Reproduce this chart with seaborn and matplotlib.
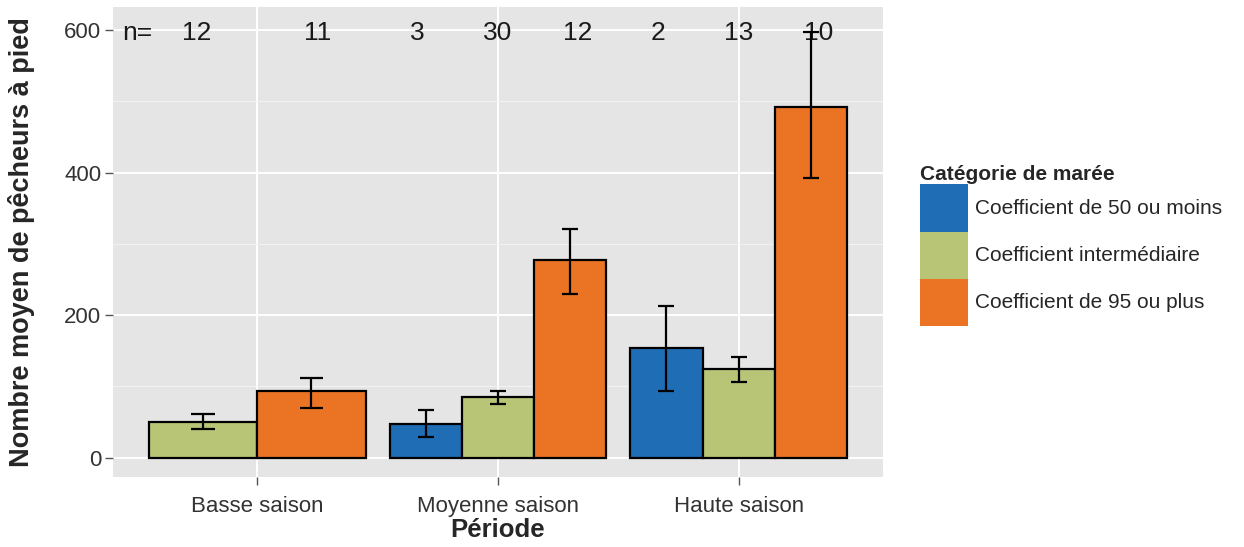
import matplotlib
matplotlib.use("Agg")
import matplotlib.pyplot as plt
from matplotlib.patches import Patch
from matplotlib.ticker import MultipleLocator
import pandas as pd
import seaborn as sns

# data
seasons = ["Basse saison", "Moyenne saison", "Haute saison"]
tides = ["Coefficient de 50 ou moins", "Coefficient intermédiaire", "Coefficient de 95 ou plus"]
tide_colors = ["#1f6db5", "#b8c476", "#eb7424"]

bar_season = [0, 0, 1, 1, 1, 2, 2, 2]
bar_tide = [1, 2, 0, 1, 2, 0, 1, 2]
mean_count = [49.5, 94, 47.5, 85.5, 277.5, 154, 124.5, 492.5]
ci_low = [40.5, 70, 29.5, 75.5, 230, 94, 106.5, 392.5]
ci_high = [61.5, 112.5, 67.5, 94, 321, 213.5, 141.5, 597]
n_obs = [12, 11, 3, 30, 12, 2, 13, 10]

sns.set_theme(style="darkgrid", rc={"axes.facecolor": "#E5E5E5", "grid.color": "white"})
plt.rcParams["font.family"] = ["Liberation Sans", "DejaVu Sans"]

df = pd.DataFrame({
    "season": bar_season,
    "tide": [tides[t] for t in bar_tide],
    "mean": mean_count,
    "low": ci_low,
    "high": ci_high,
    "n": n_obs,
})

# dodge positions like ggplot: groups with fewer bars get wider bars
df["k"] = df.groupby("season").cumcount()
df["m"] = df.groupby("season")["k"].transform("size")
df["width"] = 0.9 / df["m"]
df["pos"] = df["season"] + (df["k"] - (df["m"] - 1) / 2) * df["width"]
df["label_pos"] = df["season"] + (df["k"] - (df["m"] - 1) / 2) / df["m"]

fig, ax = plt.subplots(figsize=(12.44, 5.47), dpi=100)
fig.subplots_adjust(left=0.0908, right=0.7098, bottom=0.128, top=0.987)

palette = dict(zip(tides, tide_colors))
for s in range(len(seasons)):
    sub = df[df["season"] == s]
    sns.barplot(data=sub, x="pos", y="mean", hue="tide", hue_order=tides,
                palette=palette, native_scale=True, dodge=False, width=1,
                errorbar=None, legend=False, edgecolor="black", linewidth=1.6,
                saturation=1, orient="x", ax=ax)

# error bars
cap = df["width"] * 0.22
ax.vlines(df["pos"], df["low"], df["high"], color="black", lw=1.6, zorder=5)
ax.hlines(df["low"], df["pos"] - cap / 2, df["pos"] + cap / 2, color="black", lw=1.6, zorder=5)
ax.hlines(df["high"], df["pos"] - cap / 2, df["pos"] + cap / 2, color="black", lw=1.6, zorder=5)

# sample sizes along the top
ax.text(-0.5, 596, "n=", ha="center", va="center", fontsize=19, color="#1a1a1a")
for x, n in zip(df["label_pos"], df["n"]):
    ax.text(x, 596, str(n), ha="center", va="center", fontsize=19, color="#1a1a1a")

ax.set_xlim(-0.6, 2.6)
ax.set_ylim(-27, 632)
ax.set_xticks(range(len(seasons)))
ax.set_xticklabels(seasons)
ax.set_yticks([0, 200, 400, 600])
ax.yaxis.set_minor_locator(MultipleLocator(100))
ax.grid(which="major", color="white", lw=1.4)
ax.grid(which="minor", axis="y", color="#F2F2F2", lw=0.8)
ax.set_axisbelow(True)
for sp in ax.spines.values():
    sp.set_visible(False)
ax.tick_params(axis="both", which="major", bottom=True, left=True, length=5.5, width=1,
               color="#555555", labelsize=16, labelcolor="#333333", pad=3)
ax.tick_params(axis="x", which="major", pad=8)
ax.tick_params(axis="both", which="minor", length=0)

ax.set_xlabel("Période", fontsize=18.5, fontweight="bold", labelpad=1)
ax.set_ylabel("Nombre moyen de pêcheurs à pied", fontsize=19.5, fontweight="bold", labelpad=21)

handles = [Patch(facecolor=c, edgecolor="none") for c in tide_colors]
fig.legend(handles, tides, title="Catégorie de marée", loc="upper left",
           bbox_to_anchor=(910 / 1244, 1 - 155 / 547), frameon=False, fontsize=15,
           title_fontproperties={"weight": "bold", "size": 15},
           handlelength=2.26, handleheight=3.1, labelspacing=0, handletextpad=0.38,
           borderpad=0, alignment="left")

fig.savefig("out.png", dpi=100)
